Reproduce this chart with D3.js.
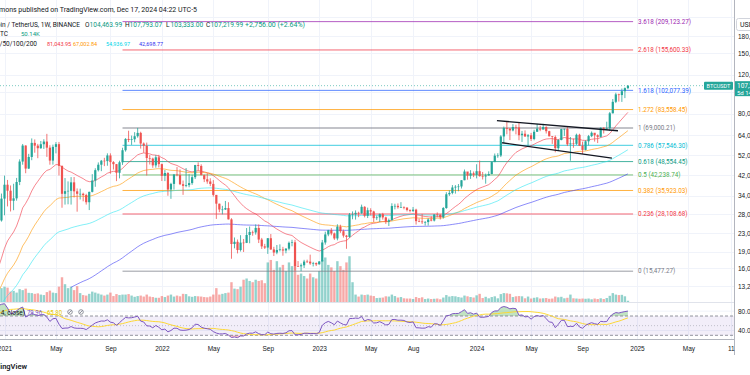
<!DOCTYPE html>
<html>
<head>
<meta charset="utf-8">
<script src="https://cdn.jsdelivr.net/npm/d3@7/dist/d3.min.js"></script>
<style>
  body { margin: 0; background: #fff; }
  svg { display: block; font-family: Roboto, "Noto Sans", sans-serif; }
</style>
</head>
<body>
<div id="root"></div>
<script>
// BINANCE BTCUSDT, weekly bars, prices in thousands of USDT

// weekly closes from the week of 14 Aug 2017 up to 14 Dec 2020 (off screen, they only feed the EMAs and the RSI)
var earlierCloses = [
  4.10, 4.34, 4.58, 4.12, 3.69, 3.78, 4.39, 4.62, 5.70, 6.01, 5.89, 7.36, 5.95, 8.00, 8.70, 11.35, 15.00, 19.00, 13.80, 13.50,
  16.20, 13.60, 11.50, 11.80, 8.20, 8.10, 10.40, 9.60, 11.40, 9.50, 8.20, 8.50, 6.80, 7.00, 8.30, 8.90, 9.30, 9.60, 8.70, 8.20,
  7.35, 7.70, 6.75, 6.45, 6.15, 6.60, 6.75, 6.35, 7.40, 8.20, 7.00, 6.30, 6.40, 6.70, 7.30, 6.30, 6.50, 6.70, 6.60, 6.58,
  6.30, 6.50, 6.40, 6.40, 6.40, 5.60, 4.00, 4.10, 3.30, 3.25, 4.00, 3.85, 4.00,
  3.51, 3.54, 3.53, 3.41, 3.62, 3.67, 3.84, 3.82, 3.94, 3.99, 4.02, 4.10, 5.06, 5.07, 5.30, 5.37, 5.75, 6.95, 8.00, 8.73,
  8.55, 7.95, 8.98, 10.85, 10.80, 11.48, 10.20, 10.75, 9.50, 11.50, 11.30, 10.30, 10.14, 9.60, 10.40, 10.30, 9.95, 8.05, 8.15, 8.30,
  7.95, 9.20, 9.20, 9.03, 8.50, 7.05, 7.42, 7.50, 7.10, 7.30, 7.25, 7.75,
  8.90, 8.65, 8.35, 9.30, 10.15, 9.90, 9.70, 8.55, 8.00, 5.35, 5.80, 5.90, 6.78, 7.05, 7.15, 7.69, 8.90, 8.73, 9.70, 8.90,
  9.45, 9.65, 9.35, 9.30, 9.05, 9.25, 9.30, 9.20, 9.90, 11.10, 11.55, 11.85, 11.65, 11.70, 10.25, 10.33, 10.90, 10.75, 10.65, 11.37,
  11.50, 13.10, 13.80, 15.48, 16.00, 18.40, 18.20, 19.15, 19.15, 23.75
];

// visible bars, first one is the week of Monday 21 Dec 2020; each open is the previous close
var firstBarDate = new Date(2020, 11, 21);
var firstOpen = 23.75;

var closes = [
  26.27, 33.00,
  38.15, 35.83, 32.26, 33.09, 39.25, 48.58, 57.41, 45.14, 50.97, 59.02, 57.35, 55.82, 58.20, 59.85, 56.15, 49.07, 56.62, 58.24,
  46.43, 34.70, 35.66, 35.80, 39.10, 35.60, 34.70, 34.70, 34.26, 31.78, 35.40, 39.85, 44.40, 47.00, 49.00, 48.80, 51.77, 48.30,
  47.27, 43.20, 48.20, 54.66, 61.50, 60.85, 61.30, 63.27, 65.50, 58.62, 57.27, 50.40, 50.10, 46.68, 50.78, 47.29,
  41.86, 43.08, 36.28, 38.47, 42.41, 42.20, 38.35, 37.70, 38.00, 38.80, 41.26, 46.82, 46.40, 42.16, 40.38, 39.45, 38.47, 34.30,
  31.30, 29.45, 29.45, 29.90, 26.57, 20.55, 21.03, 19.30, 20.85, 20.80, 22.58, 23.30, 23.18, 24.30, 21.53, 20.05, 19.80, 21.83,
  19.42, 18.80, 19.31, 19.42, 19.20, 19.57, 20.81, 20.92, 16.33, 16.29, 16.46, 17.11, 17.10, 16.78, 16.84, 16.62,
  17.13, 20.88, 22.71, 23.74, 22.94, 21.78, 24.63, 23.49, 22.43, 22.13, 27.97, 27.99, 28.45, 28.32, 30.30, 27.59, 29.23, 28.85,
  26.92, 27.12, 28.07, 27.12, 25.91, 26.34, 30.54, 30.59, 30.17, 30.23, 30.08, 29.28, 29.04, 29.41, 26.09, 26.00, 25.80, 25.84,
  26.53, 26.25, 27.97, 27.92, 27.15, 29.92, 34.53, 35.01, 37.06, 37.36, 37.45, 39.97, 43.78, 41.93, 42.99, 42.28,
  43.93, 41.73, 41.58, 42.03, 42.66, 48.30, 51.66, 51.73, 63.11, 68.96, 68.39, 67.21, 69.65, 69.36, 63.92, 64.94, 63.12, 63.89,
  61.48, 66.27, 68.51, 67.77, 69.65, 66.68, 63.21, 62.77, 55.85, 60.80, 68.17, 68.25, 58.16, 58.71, 58.43, 64.22, 57.30, 54.84,
  59.99, 63.33, 65.60, 63.90, 62.85, 69.03, 68.37, 68.78, 80.37, 90.58, 97.90, 97.19, 101.17, 104.46, 107.22
];

var highs = [
  26.87, 34.78,
  41.95, 40.10, 37.85, 38.53, 40.95, 49.71, 58.35, 57.53, 52.64, 61.84, 61.18, 58.42, 60.20, 61.30, 64.85, 57.60, 57.96, 59.50,
  59.60, 46.60, 40.90, 39.50, 41.30, 41.33, 36.70, 36.60, 35.10, 34.70, 35.50, 42.60, 45.30, 48.14, 49.38, 50.50, 52.92, 52.92,
  48.80, 47.35, 49.00, 56.10, 62.00, 67.00, 63.70, 66.00, 69.00, 66.30, 59.30, 59.20, 51.95, 50.60, 52.00, 52.10,
  47.57, 44.47, 43.50, 38.92, 42.66, 45.85, 44.75, 39.85, 45.40, 42.60, 42.33, 46.93, 48.19, 47.20, 42.41, 42.98, 40.80, 40.02,
  34.30, 31.30, 30.60, 32.20, 31.77, 26.90, 22.00, 21.54, 22.53, 21.66, 24.28, 24.67, 23.65, 25.21, 25.21, 21.90, 20.58, 21.86,
  22.80, 19.96, 20.34, 20.48, 19.95, 19.70, 21.09, 21.48, 21.47, 17.19, 16.77, 17.42, 17.45, 18.39, 17.06, 16.96,
  17.18, 21.44, 23.37, 23.82, 24.26, 23.16, 25.25, 25.13, 23.88, 22.60, 28.40, 28.87, 29.18, 28.78, 31.00, 30.48, 30.04, 29.84,
  29.07, 27.66, 28.26, 28.45, 27.35, 26.80, 31.43, 31.28, 31.38, 31.80, 30.44, 29.99, 29.53, 30.24, 29.69, 26.80, 28.14, 26.12,
  26.88, 27.48, 28.07, 28.58, 27.97, 30.20, 35.28, 35.98, 38.00, 37.98, 38.42, 40.00, 44.70, 43.44, 44.40, 43.80,
  47.22, 49.05, 43.58, 42.84, 43.86, 48.59, 52.82, 52.99, 64.00, 69.99, 73.78, 68.92, 71.77, 71.29, 72.80, 66.87, 67.23, 64.73,
  65.50, 67.70, 71.98, 70.61, 71.99, 70.20, 66.95, 63.42, 63.78, 61.42, 68.37, 68.51, 70.08, 62.75, 61.80, 65.00, 64.90, 59.81,
  60.67, 64.13, 66.50, 64.47, 64.50, 69.42, 69.52, 73.62, 81.50, 93.27, 99.59, 98.70, 104.09, 105.25, 107.79
];

var lows = [
  22.35, 25.96,
  27.73, 30.42, 28.85, 29.24, 32.30, 37.99, 47.00, 43.00, 44.95, 49.27, 53.27, 50.31, 55.50, 55.40, 51.00, 47.00, 47.04, 52.90,
  42.00, 30.00, 31.00, 31.10, 31.00, 33.40, 28.80, 32.70, 32.08, 31.00, 29.28, 35.20, 37.33, 43.80, 43.95, 46.30, 46.50, 42.80,
  44.70, 39.60, 40.75, 46.90, 53.88, 59.50, 57.80, 59.40, 62.30, 55.60, 53.25, 42.00, 47.10, 45.50, 45.56, 45.68,
  39.65, 39.61, 34.01, 32.92, 36.25, 41.65, 38.00, 34.32, 37.15, 37.15, 38.10, 40.47, 44.20, 42.10, 39.20, 38.54, 37.58, 33.71,
  26.70, 28.63, 28.00, 29.30, 26.56, 17.62, 19.64, 18.63, 19.00, 18.91, 20.75, 20.71, 22.40, 22.66, 20.76, 19.52, 19.51, 18.54,
  19.32, 18.13, 18.47, 19.03, 18.19, 18.65, 19.24, 20.06, 15.59, 16.20, 15.48, 16.00, 16.88, 16.53, 16.26, 16.33,
  16.60, 17.13, 20.41, 22.29, 22.50, 21.45, 21.35, 23.08, 21.97, 19.55, 21.92, 26.60, 26.51, 27.20, 28.17, 27.13, 26.94, 27.66,
  25.81, 26.37, 25.87, 26.50, 25.35, 24.80, 26.26, 29.50, 29.70, 29.95, 29.51, 28.86, 28.59, 28.70, 25.17, 25.80, 25.33, 24.90,
  24.90, 26.03, 26.00, 27.15, 26.54, 26.80, 29.66, 33.94, 34.52, 34.77, 35.63, 36.67, 39.98, 40.20, 40.54, 41.30,
  40.75, 41.50, 40.28, 38.56, 41.88, 42.54, 48.30, 50.52, 50.90, 59.00, 64.54, 60.78, 66.57, 64.49, 60.66, 59.60, 62.79, 56.55,
  60.19, 60.63, 66.31, 66.67, 68.49, 65.08, 63.18, 58.40, 53.49, 54.26, 60.63, 63.46, 57.12, 49.00, 56.08, 57.79, 57.20, 52.55,
  54.58, 57.49, 62.67, 59.83, 58.90, 62.43, 65.07, 67.47, 66.84, 80.22, 89.38, 90.79, 90.50, 94.15, 103.33
];

// weekly volume, thousands of BTC
var volumes = [
  480, 560,
  620, 580, 420, 450, 380, 520, 480, 540, 370, 360, 330, 350, 300, 280, 400, 460, 380, 360,
  620, 1000, 720, 560, 620, 480, 640, 360, 280, 260, 330, 420, 380, 340, 300, 260, 300, 380,
  240, 320, 280, 300, 300, 320, 260, 210, 240, 260, 220, 300, 220, 200, 170, 170,
  240, 200, 260, 300, 220, 260, 230, 330, 320, 230, 210, 240, 230, 220, 200, 190, 220, 300,
  560, 300, 330, 360, 380, 800, 540, 520, 620, 900, 950, 850, 800, 900, 850, 880, 760, 1600,
  1700, 1300, 1650, 1400, 1500, 1250, 1600, 1450, 1700, 1100, 1150, 1050, 950, 1150, 1000, 950,
  1250, 1700, 1800, 1500, 1400, 1250, 1650, 1450, 1300, 1600, 1850, 800, 300, 220, 300, 280, 300, 260,
  240, 160, 170, 180, 230, 220, 300, 240, 180, 200, 150, 140, 140, 120, 200, 160, 190, 120,
  140, 120, 130, 140, 110, 180, 280, 220, 240, 230, 200, 180, 260, 230, 200, 180,
  270, 330, 160, 210, 150, 200, 230, 150, 320, 360, 350, 330, 200, 230, 240, 230, 150, 220,
  140, 170, 190, 140, 150, 160, 130, 140, 220, 190, 210, 150, 170, 300, 150, 140, 130, 140,
  130, 140, 110, 140, 120, 150, 120, 160, 250, 360, 300, 280, 290, 230, 50.14
];

var timeTickDates = [
  new Date(2021, 0, 4), new Date(2021, 4, 3), new Date(2021, 8, 6), new Date(2022, 0, 3), new Date(2022, 4, 2),
  new Date(2022, 8, 5), new Date(2023, 0, 2), new Date(2023, 4, 1), new Date(2023, 7, 7), new Date(2024, 0, 1),
  new Date(2024, 4, 6), new Date(2024, 8, 2), new Date(2025, 0, 6), new Date(2025, 4, 5), new Date(2025, 7, 11)
];
var timeTickLabels = ['2021', 'May', 'Sep', '2022', 'May', 'Sep', '2023', 'May', 'Aug', '2024', 'May', 'Sep', '2025', 'May', '11'];

var priceTicks = [180000, 150000, 120000, 80000, 64000, 52000, 42000, 34000, 28000, 23000, 19000, 16000, 13200];
var priceGridOnly = [220000, 100000];
var rsiTicks = [80, 40];

// fib retracement drawn from the 2022 low to the 2021 high
var fibLow = 15477.27, fibHigh = 69000.21;
var fibLevels = [0, 0.236, 0.382, 0.5, 0.618, 0.786, 1, 1.272, 1.618, 2.618, 3.618];
var fibColors = ['#787b86', '#f23645', '#ff9800', '#4caf50', '#089981', '#00bcd4', '#787b86', '#ff9800', '#2962ff', '#f23645', '#9c27b0'];
var fibStart = new Date(2021, 9, 4), fibEnd = new Date(2024, 11, 28);

// hand drawn channel
var channelTop = [[new Date(2024, 1, 17), 74400], [new Date(2024, 10, 23), 67000]];
var channelBottom = [[new Date(2024, 1, 29), 59100], [new Date(2024, 10, 9), 50300]];

var emaPeriods = [20, 50, 100, 200];
var emaColors = ['#f23645', '#ff9800', '#2ee6f2', '#3f3ff5'];
var emaReadout = ['81,043.95', '67,002.84', '54,936.97', '42,698.77'];
var ohlcLetters = ['O', 'H', 'L', 'C'];
var ohlcReadout = ['104,463.99', '107,793.07', '103,333.00', '107,219.99'];

var W = 750, H = 375;
var plotRight = 734, priceBottom = 302, rsiBottom = 339;
var UP = '#26a69a', DOWN = '#ef5350';

var svg = d3.select('#root')
  .append('svg')
    .attr('width', W)
    .attr('height', H);

svg.append('rect').attr('width', W).attr('height', H).attr('fill', '#fff');

var defs = svg.append('defs');
defs.append('clipPath').attr('id', 'pricePane')
  .append('rect').attr('x', 0).attr('y', 0).attr('width', plotRight).attr('height', priceBottom);
defs.append('clipPath').attr('id', 'rsiPane')
  .append('rect').attr('x', 0).attr('y', priceBottom).attr('width', plotRight).attr('height', rsiBottom - priceBottom);

var x = d3.scaleTime()
  .domain([new Date(2021, 0, 4), new Date(2025, 0, 6)])
  .range([4.5, 637]);

var y = d3.scaleLog()
  .domain([16000, 180000])
  .range([268, 36]);

var rsiY = d3.scaleLinear()
  .domain([30, 70])
  .range([335.3, 316]);

var volY = d3.scaleLinear()
  .domain([0, 1900])
  .range([0, 47]);

// bars
var nEarly = earlierCloses.length;
var allCloses = earlierCloses.concat(closes);
var barDate = j => d3.timeDay.offset(firstBarDate, 7 * (j - nEarly));

var bars = closes.map((c, i) => {
  var o = i === 0 ? firstOpen : closes[i - 1];
  return { date: barDate(i + nEarly), open: o, high: highs[i], low: lows[i], close: c, vol: volumes[i] };
});

function ema(src, n) {
  var k = 2 / (n + 1), prev = NaN, sum = 0;
  return src.map((v, i) => {
    if (i < n - 1) { sum += v; return NaN; }
    if (i === n - 1) { sum += v; prev = sum / n; return prev; }
    prev = v * k + prev * (1 - k);
    return prev;
  });
}

function sma(src, n) {
  return src.map((v, i) => {
    if (i < n - 1) return NaN;
    var s = 0;
    for (var j = i - n + 1; j <= i; j++) s += src[j];
    return s / n;
  });
}

function rsi(src, n) {
  var out = [NaN], up = 0, dn = 0;
  for (var i = 1; i < src.length; i++) {
    var ch = src[i] - src[i - 1];
    var u = Math.max(ch, 0), d = Math.max(-ch, 0);
    if (i < n) { up += u; dn += d; out.push(NaN); continue; }
    if (i === n) { up = (up + u) / n; dn = (dn + d) / n; }
    else { up = (up * (n - 1) + u) / n; dn = (dn * (n - 1) + d) / n; }
    out.push(dn === 0 ? 100 : 100 - 100 / (1 + up / dn));
  }
  return out;
}

// grid
var grid = svg.append('g').attr('stroke', '#f0f3fa').attr('stroke-width', 1);
grid.selectAll('.vg')
  .data(timeTickDates)
  .enter().append('line')
    .attr('x1', d => Math.round(x(d)) + 0.5).attr('x2', d => Math.round(x(d)) + 0.5)
    .attr('y1', 0).attr('y2', rsiBottom);
grid.selectAll('.hg')
  .data(priceTicks.concat(priceGridOnly))
  .enter().append('line')
    .attr('x1', 0).attr('x2', plotRight)
    .attr('y1', d => Math.round(y(d)) + 0.5).attr('y2', d => Math.round(y(d)) + 0.5);
grid.selectAll('.rg')
  .data(rsiTicks)
  .enter().append('line')
    .attr('x1', 0).attr('x2', plotRight)
    .attr('y1', d => rsiY(d)).attr('y2', d => rsiY(d));

var price = svg.append('g').attr('clip-path', 'url(#pricePane)');

// volume
price.selectAll('.vol')
  .data(bars)
  .enter().append('rect')
    .attr('x', d => x(d.date) - 1.2)
    .attr('width', 2.4)
    .attr('y', d => priceBottom - volY(d.vol))
    .attr('height', d => volY(d.vol))
    .attr('fill', d => d.close >= d.open ? UP : DOWN)
    .attr('fill-opacity', 0.5);

// fib lines
var fibs = fibLevels.map((lv, i) => ({
  level: lv,
  value: fibLow + lv * (fibHigh - fibLow),
  color: fibColors[i]
}));

price.selectAll('.fib')
  .data(fibs)
  .enter().append('line')
    .attr('x1', x(fibStart)).attr('x2', x(fibEnd))
    .attr('y1', d => y(d.value)).attr('y2', d => y(d.value))
    .attr('stroke', d => d.color)
    .attr('stroke-width', d => d.level === 1 ? 2 : 1)
    .attr('stroke-opacity', d => d.level === 1 ? 0.45 : 0.75);

price.selectAll('.fibLabel')
  .data(fibs)
  .enter().append('text')
    .attr('x', x(fibEnd) + 5)
    .attr('y', d => y(d.value))
    .attr('dy', '0.35em')
    .attr('font-size', 6.3)
    .attr('fill', d => d.color)
    .text(d => d.level + ' (' + d3.format(',.2f')(d.value) + ')');

// EMAs
emaPeriods.forEach((p, k) => {
  var vals = ema(allCloses, p);
  var pts = vals.map((v, j) => ({ date: barDate(j), v: v })).filter((d, j) => j >= nEarly - 2);
  price.append('path')
    .datum(pts)
    .attr('fill', 'none')
    .attr('stroke', emaColors[k])
    .attr('stroke-opacity', 0.6)
    .attr('stroke-width', 1)
    .attr('d', d3.line()
      .defined(d => !isNaN(d.v))
      .x(d => x(d.date))
      .y(d => y(d.v * 1000)));
});

// candles
var candle = price.selectAll('.candle')
  .data(bars)
  .enter().append('g')
    .attr('fill', d => d.close >= d.open ? UP : DOWN)
    .attr('stroke', d => d.close >= d.open ? UP : DOWN);

candle.append('line')
  .attr('x1', d => x(d.date)).attr('x2', d => x(d.date))
  .attr('y1', d => y(d.high * 1000)).attr('y2', d => y(d.low * 1000))
  .attr('stroke-width', 0.8);

candle.append('rect')
  .attr('x', d => x(d.date) - 1.1)
  .attr('width', 2.2)
  .attr('y', d => y(Math.max(d.open, d.close) * 1000))
  .attr('height', d => Math.max(0.6, Math.abs(y(d.open * 1000) - y(d.close * 1000))))
  .attr('stroke', 'none');

// channel
[channelTop, channelBottom].forEach(seg => {
  price.append('line')
    .attr('x1', x(seg[0][0])).attr('y1', y(seg[0][1]))
    .attr('x2', x(seg[1][0])).attr('y2', y(seg[1][1]))
    .attr('stroke', '#131722')
    .attr('stroke-width', 1.3);
});

// last price line
var last = bars[bars.length - 1];
svg.append('line')
  .attr('x1', 0).attr('x2', plotRight)
  .attr('y1', y(last.close * 1000)).attr('y2', y(last.close * 1000))
  .attr('stroke', UP)
  .attr('stroke-opacity', 0.6)
  .attr('stroke-dasharray', '1,2');

// RSI pane
var rsiVals = rsi(allCloses, 14);
var rsiMa = sma(rsiVals.map(v => isNaN(v) ? 0 : v), 14);
var rsiPts = rsiVals.map((v, j) => ({ date: barDate(j), v: v, m: rsiMa[j] })).filter((d, j) => j >= nEarly - 2);

var rsiG = svg.append('g').attr('clip-path', 'url(#rsiPane)');

rsiG.append('rect')
  .attr('x', 0).attr('width', plotRight)
  .attr('y', rsiY(70)).attr('height', rsiY(30) - rsiY(70))
  .attr('fill', '#7e57c2').attr('fill-opacity', 0.1);

rsiG.append('path')
  .datum(rsiPts)
  .attr('fill', '#4caf50').attr('fill-opacity', 0.35)
  .attr('d', d3.area()
    .x(d => x(d.date))
    .y0(rsiY(70))
    .y1(d => rsiY(Math.max(d.v, 70))));

rsiG.append('path')
  .datum(rsiPts)
  .attr('fill', '#f23645').attr('fill-opacity', 0.3)
  .attr('d', d3.area()
    .x(d => x(d.date))
    .y0(rsiY(30))
    .y1(d => rsiY(Math.min(d.v, 30))));

[70, 30].forEach(v => {
  rsiG.append('line')
    .attr('x1', 0).attr('x2', plotRight)
    .attr('y1', rsiY(v)).attr('y2', rsiY(v))
    .attr('stroke', '#787b86').attr('stroke-opacity', 0.8)
    .attr('stroke-dasharray', '3,2');
});
rsiG.append('line')
  .attr('x1', 0).attr('x2', plotRight)
  .attr('y1', rsiY(50)).attr('y2', rsiY(50))
  .attr('stroke', '#787b86').attr('stroke-opacity', 0.4)
  .attr('stroke-dasharray', '1,2');

rsiG.append('path')
  .datum(rsiPts)
  .attr('fill', 'none')
  .attr('stroke', '#fdd835')
  .attr('stroke-width', 1)
  .attr('d', d3.line().x(d => x(d.date)).y(d => rsiY(d.m)));

rsiG.append('path')
  .datum(rsiPts)
  .attr('fill', 'none')
  .attr('stroke', '#7e57c2')
  .attr('stroke-width', 1)
  .attr('d', d3.line().x(d => x(d.date)).y(d => rsiY(d.v)));

// pane borders
svg.append('line')
  .attr('x1', 0).attr('x2', plotRight).attr('y1', priceBottom + 0.5).attr('y2', priceBottom + 0.5)
  .attr('stroke', '#e0e3eb');
svg.append('line')
  .attr('x1', 0).attr('x2', plotRight).attr('y1', rsiBottom + 0.5).attr('y2', rsiBottom + 0.5)
  .attr('stroke', '#b2b5be');
svg.append('line')
  .attr('x1', plotRight + 0.5).attr('x2', plotRight + 0.5).attr('y1', 0).attr('y2', 355)
  .attr('stroke', '#b2b5be');

// axes
var axisFont = g => g.selectAll('text').attr('font-size', 6.5).attr('fill', '#131722');

svg.append('g')
  .attr('transform', 'translate(0,' + rsiBottom + ')')
  .call(d3.axisBottom(x).tickValues(timeTickDates).tickFormat((d, i) => timeTickLabels[i]).tickSize(0).tickPadding(7))
  .call(g => g.select('.domain').remove())
  .call(axisFont);

svg.append('g')
  .attr('transform', 'translate(' + (plotRight + 3) + ',0)')
  .call(d3.axisRight(y).tickValues(priceTicks).tickFormat(d3.format(',.2f')).tickSize(0).tickPadding(1))
  .call(g => g.select('.domain').remove())
  .call(axisFont);

svg.append('g')
  .attr('transform', 'translate(' + (plotRight + 3) + ',0)')
  .call(d3.axisRight(rsiY).tickValues(rsiTicks).tickFormat(d3.format('.2f')).tickSize(0).tickPadding(1))
  .call(g => g.select('.domain').remove())
  .call(axisFont);

// currency box top right
svg.append('rect')
  .attr('x', 736.5).attr('y', 18.5).attr('width', 22).attr('height', 12).attr('rx', 2)
  .attr('fill', '#fff').attr('stroke', '#d1d4dc');
svg.append('text')
  .attr('x', 740).attr('y', 27).attr('font-size', 7).attr('fill', '#131722')
  .text('USDT');

// last price tags
var lastY = y(last.close * 1000);
svg.append('rect')
  .attr('x', 704).attr('y', lastY - 4).attr('width', 29).attr('height', 8).attr('rx', 1)
  .attr('fill', UP);
svg.append('text')
  .attr('x', 718.5).attr('y', lastY).attr('dy', '0.35em')
  .attr('text-anchor', 'middle').attr('font-size', 5.5).attr('fill', '#fff')
  .text('BTCUSDT');
svg.append('rect')
  .attr('x', plotRight + 1).attr('y', lastY - 4.5).attr('width', 20).attr('height', 15)
  .attr('fill', UP);
svg.append('text')
  .attr('x', 737).attr('y', lastY).attr('dy', '0.35em')
  .attr('font-size', 6.5).attr('fill', '#fff')
  .text(d3.format(',.2f')(last.close * 1000));
svg.append('text')
  .attr('x', 737).attr('y', lastY + 7).attr('dy', '0.35em')
  .attr('font-size', 6).attr('fill', '#fff')
  .text('5d 14h');

// legends
var header = svg.append('g').attr('font-size', 6.5).attr('fill', '#131722');

header.append('text')
  .attr('x', -1).attr('y', 11.5)
  .attr('font-size', 7)
  .text('mons published on TradingView.com, Dec 17, 2024 04:22 UTC-5');

header.append('text')
  .attr('x', 80).attr('y', 26.5).attr('text-anchor', 'end')
  .text('Bitcoin / TetherUS, 1W, BINANCE');

var ohlcX = [85, 125, 166, 206];
ohlcLetters.forEach((s, i) => {
  header.append('text')
    .attr('x', ohlcX[i]).attr('y', 26.5)
    .text(s);
  header.append('text')
    .attr('x', ohlcX[i] + 4.6).attr('y', 26.5)
    .attr('fill', '#089981')
    .attr('textLength', 32.5).attr('lengthAdjust', 'spacingAndGlyphs')
    .text(ohlcReadout[i]);
});
header.append('text')
  .attr('x', 245).attr('y', 26.5).attr('fill', '#089981')
  .attr('textLength', 60).attr('lengthAdjust', 'spacingAndGlyphs')
  .text('+2,756.00 (+2.64%)');

header.append('text')
  .attr('x', 8).attr('y', 36).attr('text-anchor', 'end')
  .text('Vol \u00b7 BTC');
header.append('text')
  .attr('x', 21).attr('y', 36).attr('fill', '#089981')
  .attr('font-size', 6)
  .text('50.14K');

header.append('text')
  .attr('x', 37).attr('y', 45.5).attr('text-anchor', 'end')
  .text('EMA 20/50/100/200');
var emaX = [47, 73, 106, 139];
var emaTextColors = ['#f23645', '#ff9800', '#00d5e8', '#2f2ff0'];
emaReadout.forEach((s, i) => {
  header.append('text')
    .attr('x', emaX[i]).attr('y', 45.5)
    .attr('font-size', 5.5)
    .attr('fill', emaTextColors[i])
    .text(s);
});

// RSI legend
var rsiLeg = svg.append('g').attr('font-size', 6.5);
rsiLeg.append('text')
  .attr('x', 25).attr('y', 314.5).attr('text-anchor', 'end').attr('fill', '#131722')
  .text('RSI (14, close)');
rsiLeg.append('text')
  .attr('x', 27).attr('y', 314.5).attr('fill', '#7e57c2')
  .attr('textLength', 15).attr('lengthAdjust', 'spacingAndGlyphs')
  .text('79.96');
rsiLeg.append('text')
  .attr('x', 47).attr('y', 314.5).attr('fill', '#e6c800')
  .attr('textLength', 15).attr('lengthAdjust', 'spacingAndGlyphs')
  .text('65.80');
[70, 81].forEach(cx => {
  rsiLeg.append('circle')
    .attr('cx', cx).attr('cy', 312).attr('r', 2.3)
    .attr('fill', 'none').attr('stroke', '#787b86').attr('stroke-width', 0.8);
  rsiLeg.append('line')
    .attr('x1', cx - 1.6).attr('y1', 313.6).attr('x2', cx + 1.6).attr('y2', 310.4)
    .attr('stroke', '#787b86').attr('stroke-width', 0.8);
});

// footer
svg.append('text')
  .attr('x', 27).attr('y', 369)
  .attr('text-anchor', 'end')
  .attr('font-size', 7.5)
  .attr('font-weight', 600)
  .attr('fill', '#131722')
  .text('TradingView');
</script>
</body>
</html>
